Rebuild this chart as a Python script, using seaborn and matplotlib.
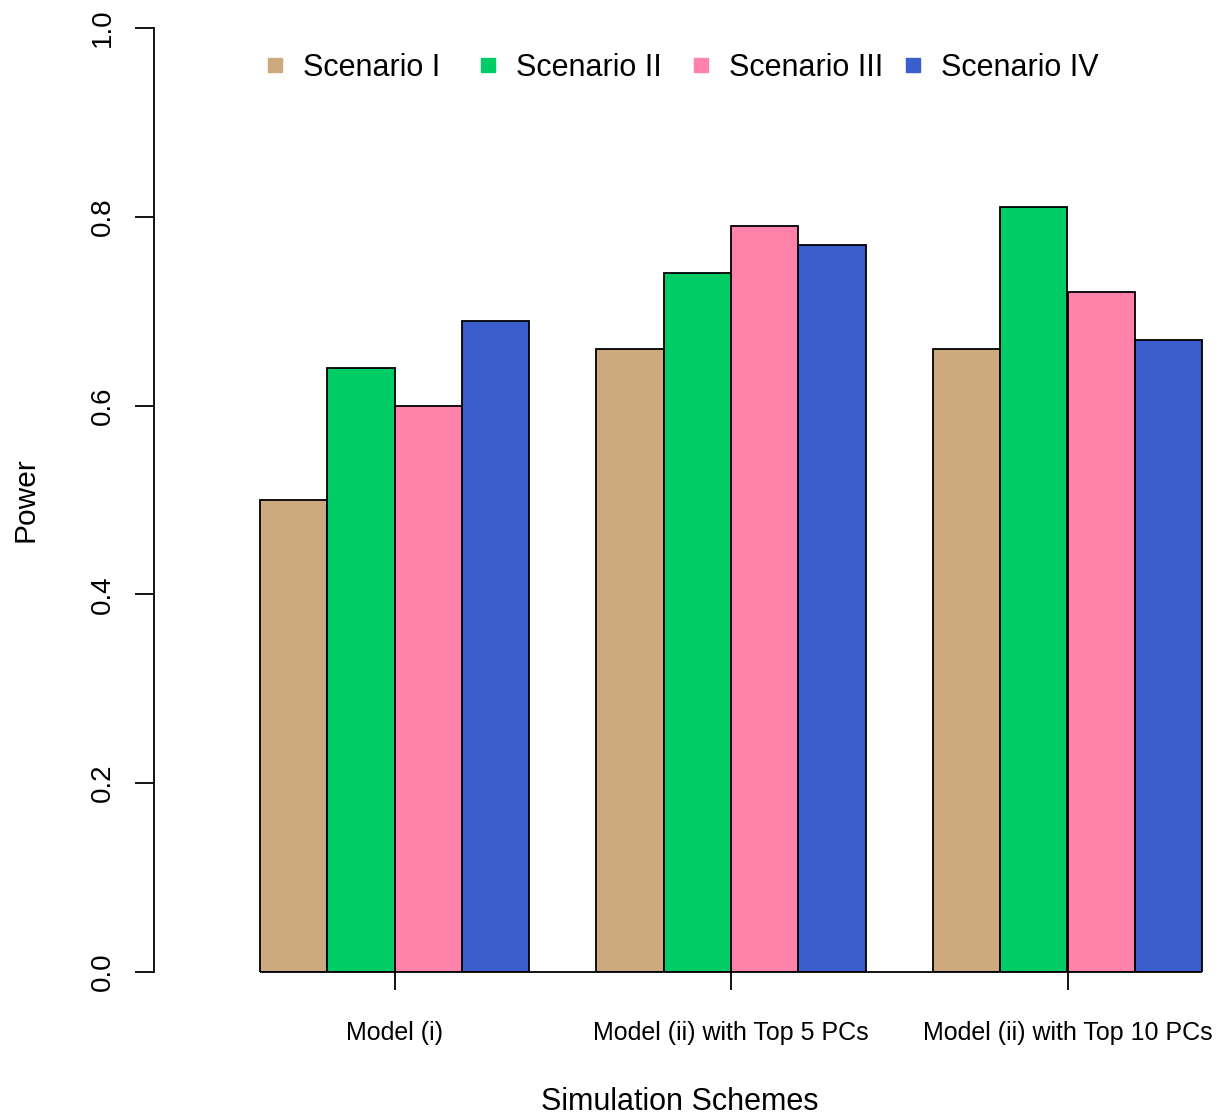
import matplotlib
matplotlib.use("Agg")
import matplotlib.pyplot as plt
from matplotlib.lines import Line2D
import seaborn as sns
import pandas as pd

schemes = ["Model (i)", "Model (ii) with Top 5 PCs", "Model (ii) with Top 10 PCs"]
scenarios = ["Scenario I", "Scenario II", "Scenario III", "Scenario IV"]
power_model_i = [0.50, 0.64, 0.60, 0.69]
power_top5 = [0.66, 0.74, 0.79, 0.77]
power_top10 = [0.66, 0.81, 0.72, 0.67]
colors = ["#CDAA7D", "#00CD66", "#FF82AB", "#3A5FCD"]
yticks = [0.0, 0.2, 0.4, 0.6, 0.8, 1.0]
ytick_labels = ["0.0", "0.2", "0.4", "0.6", "0.8", "1.0"]

rows = []
for sch, vals in zip(schemes, [power_model_i, power_top5, power_top10]):
    for sc, v in zip(scenarios, vals):
        rows.append({"scheme": sch, "scenario": sc, "power": v})
df = pd.DataFrame(rows)

sns.set_style("white")
plt.rcParams["font.family"] = ["Liberation Sans", "DejaVu Sans"]
plt.rcParams["text.color"] = "black"
plt.rcParams["axes.labelcolor"] = "black"
plt.rcParams["xtick.color"] = "black"
plt.rcParams["ytick.color"] = "black"

W, H = 1220, 1118
fig = plt.figure(figsize=(W / 100, H / 100), dpi=100)
ax_left, ax_right, ax_top, ax_bottom = 154, 1206, 28, 972
ax = fig.add_axes([ax_left / W, 1 - ax_bottom / H, (ax_right - ax_left) / W, (ax_bottom - ax_top) / H])

sns.barplot(data=df, x="scheme", y="power", hue="scenario", order=schemes,
            hue_order=scenarios, palette=colors, saturation=1, edgecolor="black",
            linewidth=1.3, legend=False, ax=ax, width=0.8)

px_per_unit = 336.5
ax.set_xlim((ax_left - 394.5) / px_per_unit, (ax_right - 394.5) / px_per_unit)
ax.set_ylim(0, 1)

# baseline under bars spanning bar extent
lefts = [p.get_x() for p in ax.patches]
rights = [p.get_x() + p.get_width() for p in ax.patches]
ax.hlines(0, min(lefts), max(rights), color="black", linewidth=1.3, zorder=5, clip_on=False)

for s in ["top", "right", "bottom"]:
    ax.spines[s].set_visible(False)
ax.spines["left"].set_linewidth(1.3)
ax.spines["left"].set_color("black")

ax.set_yticks(yticks)
ax.set_yticklabels(ytick_labels, rotation=90, va="center", fontsize=20)
ax.tick_params(axis="y", length=13.7, width=1.3, color="black", labelcolor="black", pad=14, left=True)
ax.tick_params(axis="x", length=13, width=1.3, color="black", labelcolor="black", pad=22, labelsize=18, bottom=True)

ax.set_xlabel("Simulation Schemes", fontsize=22, va="center", color="black")
ax.xaxis.set_label_coords(0.5, (ax_bottom - 1102) / (ax_bottom - ax_top))
ax.set_ylabel("Power", fontsize=21.5, va="center", color="black")
ax.yaxis.set_label_coords((25 - ax_left) / (ax_right - ax_left), 0.5)

# legend: one entry per slot, equally spaced like R's horizontal legend
leg_start, leg_step, leg_y = 260, 212.7, 68
for i, (lab, c) in enumerate(zip(scenarios, colors)):
    h = Line2D([0], [0], marker="s", linestyle="none", markersize=9.5,
               markerfacecolor=c, markeredgecolor=c)
    fig.legend([h], [lab], loc="center left",
               bbox_to_anchor=((leg_start + i * leg_step) / W, 1 - leg_y / H),
               frameon=False, fontsize=22, handlelength=1.0, handletextpad=0.42,
               borderpad=0, borderaxespad=0, labelcolor="black")

fig.savefig("out.png", dpi=100)
